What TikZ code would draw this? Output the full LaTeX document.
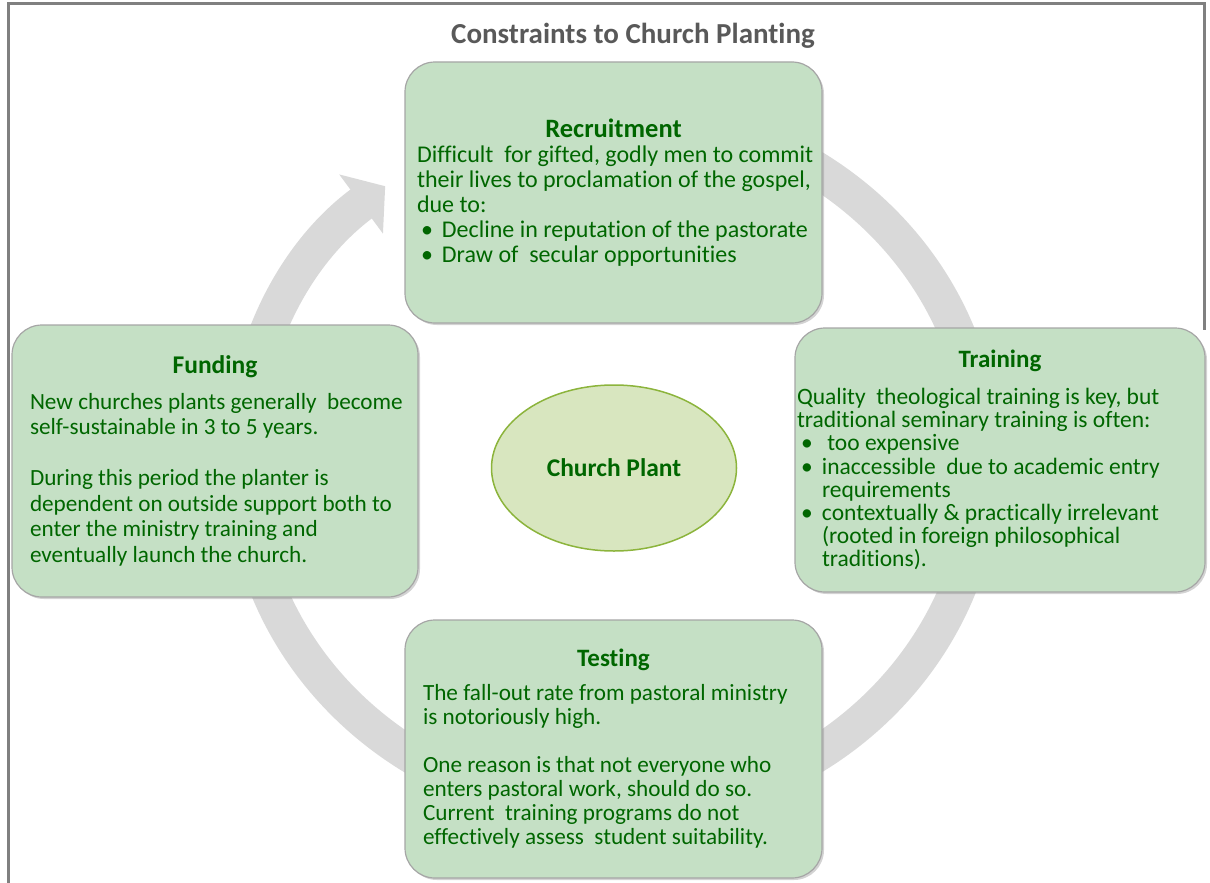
\documentclass[tikz,border=0pt]{standalone}
\usepackage{fontspec}
\setmainfont{Carlito}[Ligatures=NoCommon]
\usetikzlibrary{arrows.meta,shapes.geometric,shadows}

\definecolor{ringgray}{RGB}{217,217,217}
\definecolor{boxfill}{RGB}{197,224,197}
\definecolor{textgreen}{RGB}{0,102,0}
\definecolor{framegray}{RGB}{128,128,128}
\definecolor{titlegray}{RGB}{89,89,89}
\definecolor{plantfill}{RGB}{216,230,191}
\definecolor{plantline}{RGB}{140,180,60}

\newcommand{\boxhead}[3]{{\centering\fontsize{#2}{28}\selectfont\bfseries #1\par}\vspace{#3}}
\newcommand{\blt}[1]{\par\hangindent=25pt\hangafter=1\noindent\makebox[25pt][l]{\hspace{4pt}\textbullet}#1}
\newcommand{\bodysize}[2]{\fontsize{#1}{#2}\selectfont}
\newcommand{\bodystart}[1]{\raggedright\leftskip=#1\relax}

\begin{document}
\begin{tikzpicture}[x=1pt,y=-1pt,
    constraint/.style={draw=black!35, line width=1.2pt, fill=boxfill, rounded corners=30pt,
      drop shadow={shadow xshift=2pt,shadow yshift=-2pt,opacity=.35},
      text=textgreen, inner sep=0pt},
    plant/.style={ellipse, draw=plantline, line width=1.5pt, fill=plantfill, text=textgreen,
      minimum width=245pt, minimum height=166pt, font=\fontsize{25.5}{28}\selectfont\bfseries},
    title/.style={text=titlegray, font=\fontsize{29}{32}\selectfont\bfseries}]

  \useasboundingbox (0,0) rectangle (1210,883);
  \draw[framegray, line width=3pt] (8,883) -- (8,4) -- (1204,4) -- (1204,330);

  \node[title] (heading) at (633,36) {Constraints to Church Planting};

  \coordinate (hub) at (613,462);
  \draw[ringgray, line width=36pt, -{Triangle[length=30pt,width=72pt]}]
    (hub) ++(-100:370 and 350) arc[start angle=-100, end angle=232, x radius=370, y radius=350];

  \node[constraint, minimum width=417pt, minimum height=261pt] (recruit) at (613.5,192.5) {%
    \begin{minipage}{407pt}\bodysize{24}{25}
      \boxhead{Recruitment}{26.5}{0pt}
      \bodystart{7pt}
      Difficult\ \ for gifted, godly men to commit\\
      their lives to proclamation of the gospel,\\
      due to:
      \blt{Decline in reputation of the pastorate}
      \blt{Draw of\ \ secular opportunities}
    \end{minipage}};

  \node[constraint, minimum width=406pt, minimum height=272pt] (funding) at (215,461) {%
    \begin{minipage}{396pt}\bodysize{23.2}{25.5}
      \boxhead{Funding}{25.5}{10pt}
      \bodystart{13pt}
      New churches plants generally\ \ become\\
      self-sustainable in 3 to 5 years.\\[25.5pt]
      During this period the planter is\\
      dependent on outside support both to\\
      enter the ministry training and\\
      eventually launch the church.
    \end{minipage}};

  \node[constraint, minimum width=410pt, minimum height=264pt] (training) at (1000,460) {%
    \begin{minipage}{410pt}\bodysize{23.5}{23.2}
      \boxhead{Training}{25}{14pt}
      \bodystart{2pt}
      Quality\ \ theological training is key, but\\
      traditional seminary training is often:
      \blt{\ too expensive}
      \blt{inaccessible\ \ due to academic entry\newline requirements}
      \blt{contextually \& practically irrelevant\newline (rooted in foreign philosophical\newline traditions).}
    \end{minipage}};

  \node[constraint, minimum width=417pt, minimum height=258pt] (testing) at (613.5,749) {%
    \begin{minipage}{407pt}\bodysize{23.2}{24}
      \boxhead{Testing}{25}{10pt}
      \bodystart{13pt}
      The fall-out rate from pastoral ministry\\
      is notoriously high.\\[24pt]
      One reason is that not everyone who\\
      enters pastoral work, should do so.\\
      Current\ \ training programs do not\\
      effectively assess\ \ student suitability.
    \end{minipage}};

  \node[plant] (plant) at (614,468) {Church Plant};

\end{tikzpicture}
\end{document}
